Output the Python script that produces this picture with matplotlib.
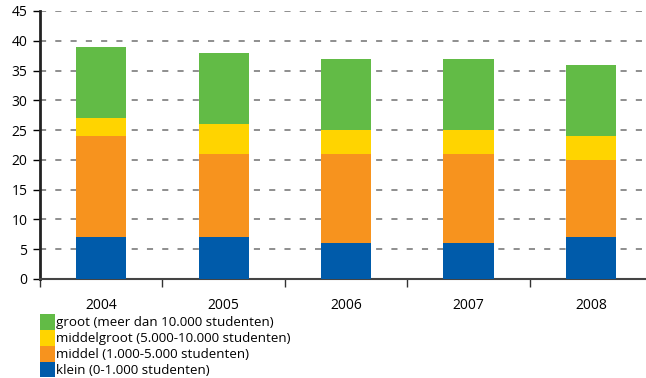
import matplotlib.pyplot as plt
import numpy as np

years = ['2004', '2005', '2006', '2007', '2008']
klein = [7, 7, 6, 6, 7]
middel = [17, 14, 15, 15, 13]
middelgroot = [3, 5, 4, 4, 4]
groot = [12, 12, 12, 12, 12]

labels = ['klein (0-1.000 studenten)',
          'middel (1.000-5.000 studenten)',
          'middelgroot (5.000-10.000 studenten)',
          'groot (meer dan 10.000 studenten)']
colors = ['#005BAA', '#F7931E', '#FFD400', '#62BB46']

plt.rcParams['font.family'] = ['Open Sans', 'DejaVu Sans']

fig = plt.figure(figsize=(6.46, 3.78), dpi=100)
ax = fig.add_axes([40 / 646, 99 / 378, 606 / 646, 268 / 378])

x = np.arange(len(years))
bottom = np.zeros(len(years))
handles = []
for vals, lab, col in zip([klein, middel, middelgroot, groot], labels, colors):
    b = ax.bar(x, vals, 0.41, bottom=bottom, color=col, label=lab, zorder=3)
    handles.append(b)
    bottom += np.array(vals)

ax.set_xlim(-0.5, 4.45)
ax.set_ylim(0, 45)
ax.set_yticks(range(0, 46, 5))
ax.yaxis.grid(True, color='#707070', linestyle=(0, (4, 6)), linewidth=1.1, zorder=0)
ax.set_axisbelow(True)

ax.set_xticks(x)
ax.set_xticklabels(years, fontsize=10)
ax.set_xticks(np.arange(-0.5, 4.5, 1), minor=True)
ax.tick_params(axis='x', which='major', length=0, pad=14)
ax.tick_params(axis='x', which='minor', length=6, width=1, color='#333333', direction='out')
ax.tick_params(axis='y', length=5, width=1, pad=4, labelsize=10)

for s in ['top', 'right']:
    ax.spines[s].set_visible(False)
ax.spines['left'].set_linewidth(2)
ax.spines['left'].set_color('#222222')
ax.spines['bottom'].set_linewidth(1.5)
ax.spines['bottom'].set_color('#444444')

fig.legend(handles[::-1], labels[::-1], loc='upper left',
           bbox_to_anchor=(40 / 646, 1 - 314 / 378), frameon=False,
           fontsize=9.6, handlelength=1.1, handleheight=1.45, handletextpad=0.1,
           labelspacing=0.0, borderpad=0, borderaxespad=0)

plt.savefig('out.png', dpi=100)
